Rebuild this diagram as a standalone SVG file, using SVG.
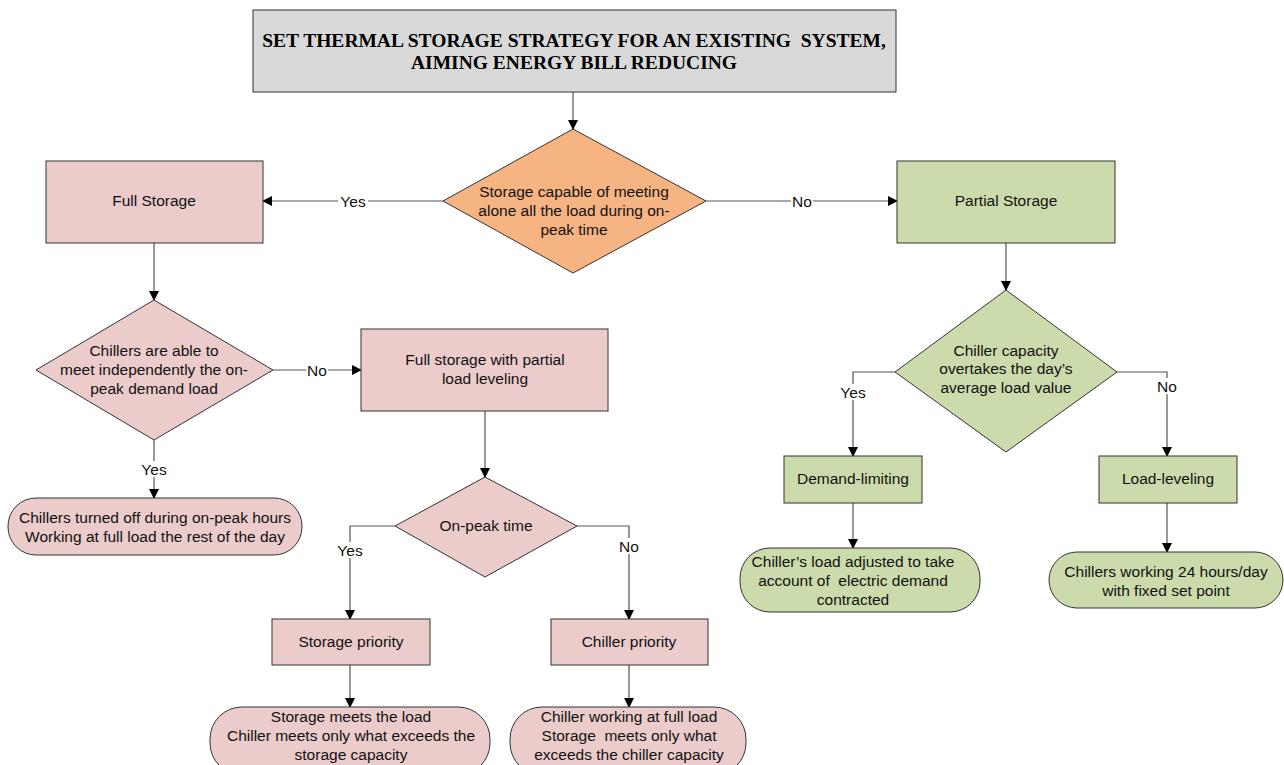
<svg xmlns="http://www.w3.org/2000/svg" width="1284" height="765" viewBox="0 0 1284 765">
<defs>
<marker id="ah" markerWidth="10" markerHeight="10" refX="9" refY="5" orient="auto" markerUnits="userSpaceOnUse"><path d="M0,0 L10,5 L0,10 z" fill="#000"/></marker>
<style>
.t{font-family:"Liberation Sans",Arial,sans-serif;font-size:15.5px;fill:#111;text-anchor:middle;white-space:pre}
.title{font-family:"Liberation Serif","Times New Roman",serif;font-size:19.5px;font-weight:bold;fill:#000;text-anchor:middle;white-space:pre}
.pink{fill:#EBCCCB;stroke:#333;stroke-width:1}
.green{fill:#CCDBAB;stroke:#333;stroke-width:1}
.orange{fill:#F6B482;stroke:#333;stroke-width:1}
.gray{fill:#D9D9D9;stroke:#333;stroke-width:1}
.ca{fill:none;stroke:#555;stroke-width:1.2;marker-end:url(#ah)}
.lbl{font-family:"Liberation Sans",Arial,sans-serif;font-size:15.5px;fill:#111;text-anchor:middle}
.bg{fill:#fff}
</style>
</defs>
<rect width="1284" height="765" fill="#fff"/>

<g id="connectors">
<path class="ca" d="M573,92 V129"/>
<path class="ca" d="M443,201 H263"/>
<path class="ca" d="M706,201 H897"/>
<path class="ca" d="M154,243 V300"/>
<path class="ca" d="M1006,243 V290"/>
<path class="ca" d="M273,370 H361"/>
<path class="ca" d="M154,440 V498"/>
<path class="ca" d="M485,411 V477"/>
<path class="ca" d="M395,526 H350 V619"/>
<path class="ca" d="M577,526 H629 V619"/>
<path class="ca" d="M350,665 V707"/>
<path class="ca" d="M629,665 V707"/>
<path class="ca" d="M895,372 H853 V456"/>
<path class="ca" d="M1117,372 H1167 V456"/>
<path class="ca" d="M853,503 V548"/>
<path class="ca" d="M1167,503 V552"/>
<g id="labels">
<rect class="bg" x="338" y="193" width="30" height="16"/><text class="lbl" x="353" y="207">Yes</text>
<rect class="bg" x="791" y="193" width="22" height="16"/><text class="lbl" x="802" y="207">No</text>
<rect class="bg" x="306" y="362" width="22" height="16"/><text class="lbl" x="317" y="376">No</text>
<rect class="bg" x="139" y="461" width="30" height="16"/><text class="lbl" x="154" y="475">Yes</text>
<rect class="bg" x="335" y="542" width="30" height="16"/><text class="lbl" x="350" y="556">Yes</text>
<rect class="bg" x="618" y="538" width="22" height="16"/><text class="lbl" x="629" y="552">No</text>
<rect class="bg" x="838" y="384" width="30" height="16"/><text class="lbl" x="853" y="398">Yes</text>
<rect class="bg" x="1156" y="378" width="22" height="16"/><text class="lbl" x="1167" y="392">No</text>
</g>
</g>

<g id="title">
<rect class="gray" x="253" y="10" width="643" height="82"/>
<text class="title" x="574" y="47">SET THERMAL STORAGE STRATEGY FOR AN EXISTING  SYSTEM,</text>
<text class="title" x="574" y="69">AIMING ENERGY BILL REDUCING</text>
</g>

<g id="d-main">
<polygon class="orange" points="573,129 706,201 573,273 443,201"/>
<text class="t" x="574" y="197">Storage capable of meeting</text>
<text class="t" x="574" y="216">alone all the load during on-</text>
<text class="t" x="574" y="235">peak time</text>
</g>

<g id="full-storage">
<rect class="pink" x="46" y="161" width="217" height="82"/>
<text class="t" x="154" y="206">Full Storage</text>
</g>

<g id="partial-storage">
<rect class="green" x="897" y="161" width="218" height="82"/>
<text class="t" x="1006" y="206">Partial Storage</text>
</g>

<g id="d-chillers-able">
<polygon class="pink" points="154,300 273,370 154,440 36,370"/>
<text class="t" x="154" y="356">Chillers are able to</text>
<text class="t" x="154" y="375">meet independently the on-</text>
<text class="t" x="154" y="394">peak demand load</text>
</g>

<g id="full-partial">
<rect class="pink" x="361" y="329" width="247" height="82"/>
<text class="t" x="485" y="365">Full storage with partial</text>
<text class="t" x="485" y="384">load leveling</text>
</g>

<g id="chillers-off">
<rect class="pink" x="8" y="498" width="294" height="57" rx="28" ry="28"/>
<text class="t" x="155" y="523">Chillers turned off during on-peak hours</text>
<text class="t" x="155" y="542">Working at full load the rest of the day</text>
</g>

<g id="d-onpeak">
<polygon class="pink" points="485,477 577,526 485,577 395,526"/>
<text class="t" x="486" y="531">On-peak time</text>
</g>

<g id="storage-priority">
<rect class="pink" x="272" y="619" width="158" height="46"/>
<text class="t" x="351" y="647">Storage priority</text>
</g>

<g id="chiller-priority">
<rect class="pink" x="551" y="619" width="157" height="46"/>
<text class="t" x="629" y="647">Chiller priority</text>
</g>

<g id="storage-meets">
<rect class="pink" x="210" y="707" width="280" height="68" rx="32" ry="32"/>
<text class="t" x="351" y="722">Storage meets the load</text>
<text class="t" x="351" y="741">Chiller meets only what exceeds the</text>
<text class="t" x="351" y="760">storage capacity</text>
</g>

<g id="chiller-full">
<rect class="pink" x="510" y="707" width="236" height="68" rx="32" ry="32"/>
<text class="t" x="629" y="722">Chiller working at full load</text>
<text class="t" x="629" y="741">Storage  meets only what</text>
<text class="t" x="629" y="760">exceeds the chiller capacity</text>
</g>

<g id="d-chiller-capacity">
<polygon class="green" points="1006,290 1117,372 1006,452 895,372"/>
<text class="t" x="1006" y="356">Chiller capacity</text>
<text class="t" x="1006" y="374">overtakes the day’s</text>
<text class="t" x="1006" y="393">average load value</text>
</g>

<g id="demand-limiting">
<rect class="green" x="784" y="456" width="138" height="47"/>
<text class="t" x="853" y="484">Demand-limiting</text>
</g>

<g id="load-leveling">
<rect class="green" x="1099" y="456" width="138" height="47"/>
<text class="t" x="1168" y="484">Load-leveling</text>
</g>

<g id="chiller-load-adjusted">
<rect class="green" x="740" y="548" width="240" height="64" rx="30" ry="30"/>
<text class="t" x="853" y="567">Chiller’s load adjusted to take</text>
<text class="t" x="853" y="586">account of  electric demand</text>
<text class="t" x="853" y="605">contracted</text>
</g>

<g id="chillers-24h">
<rect class="green" x="1049" y="552" width="234" height="56" rx="28" ry="28"/>
<text class="t" x="1166" y="577">Chillers working 24 hours/day</text>
<text class="t" x="1166" y="596">with fixed set point</text>
</g>
</svg>
